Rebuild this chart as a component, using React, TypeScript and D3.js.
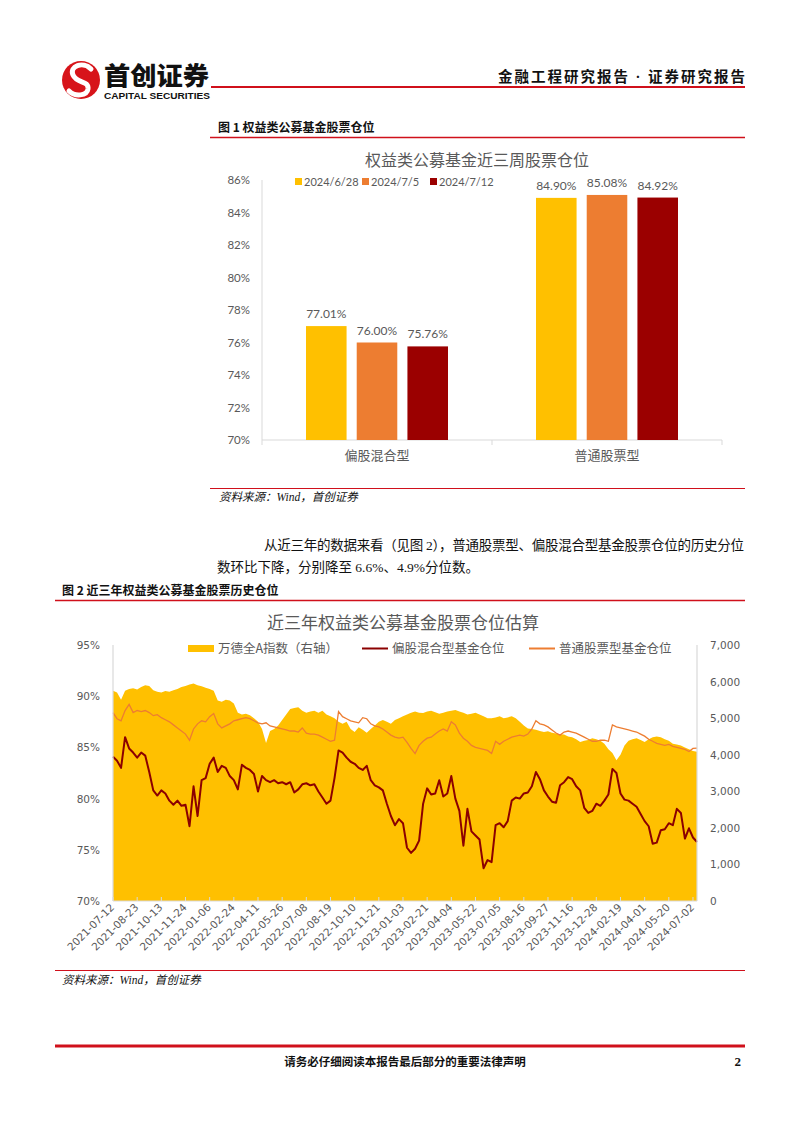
import React from 'react';
import * as d3 from 'd3';

// ---------- Figure 1 data ----------
const barCategories = ['偏股混合型', '普通股票型'];
const barDates = ['2024/6/28', '2024/7/5', '2024/7/12'];
const values0628 = [77.01, 84.9];
const values0705 = [76.0, 85.08];
const values0712 = [75.76, 84.92];
const barColors = ['#FFC000', '#ED7D31', '#9B0000'];
const barYTicks = [70, 72, 74, 76, 78, 80, 82, 84, 86];

// ---------- Figure 2 data (weekly samples) ----------
const dateLabels = [
  '2021-07-12', '2021-08-23', '2021-10-13', '2021-11-24', '2022-01-06', '2022-02-24',
  '2022-04-11', '2022-05-26', '2022-07-08', '2022-08-19', '2022-10-10', '2022-11-21',
  '2023-01-03', '2023-02-21', '2023-04-04', '2023-05-22', '2023-07-05', '2023-08-16',
  '2023-09-27', '2023-11-16', '2023-12-28', '2024-02-19', '2024-04-01', '2024-05-20',
  '2024-07-02',
];
const windIndex = [
  5750, 5700, 5500, 5750, 5800, 5820, 5780, 5850, 5900, 5880,
  5760, 5720, 5700, 5740, 5720, 5760, 5800, 5850, 5880, 5920,
  5950, 5900, 5870, 5830, 5800, 5750, 5480, 5450, 5500, 5480,
  5400, 5150, 5100, 5120, 5080, 5000, 4900, 4700, 4320, 4650,
  4700, 4800, 4950, 5100, 5250, 5280, 5300, 5200, 5150, 5180,
  5200, 5150, 5200, 5100, 5050, 5000, 4900, 4850, 4900, 4700,
  4620, 4750, 4680, 4600, 4700, 4800, 4900, 4950, 4900, 4850,
  4950, 5000, 5050, 5100, 5150, 5180, 5150, 5140, 5180, 5200,
  5160, 5120, 5150, 5180, 5200, 5220, 5180, 5150, 5100, 5120,
  5150, 5100, 5050, 5000, 5000, 5020, 5050, 5000, 5020, 5050,
  5000, 4900, 4800, 4720, 4700, 4680, 4650, 4620, 4640, 4600,
  4580, 4560, 4550, 4500, 4480, 4420, 4350, 4380, 4400, 4450,
  4420, 4380, 4300, 4150, 4050, 3850, 4000, 4250, 4380, 4420,
  4450, 4400, 4350, 4420, 4480, 4500, 4480, 4420, 4380, 4300,
  4280, 4250, 4200, 4150, 4100, 4080,
];
const mixedFund = [
  84.1, 83.7, 83.0, 86.0, 84.9, 84.5, 84.0, 84.5, 84.2, 82.6,
  80.8, 80.3, 80.8, 80.5, 79.8, 79.4, 79.8, 79.3, 79.4, 77.3,
  81.2, 78.3, 81.8, 82.0, 83.4, 84.0, 82.6, 83.2, 83.0, 82.2,
  81.8, 80.9, 83.3, 83.0, 82.8, 82.4, 80.7, 82.2, 81.8, 81.6,
  81.8, 81.5, 81.6, 81.4, 81.6, 80.6, 80.9, 81.4, 81.5, 81.3,
  81.4, 80.7, 80.1, 79.5, 79.8, 82.0, 84.7, 84.5, 84.0, 83.6,
  83.4, 83.0, 82.8, 83.2, 81.8, 81.3, 81.1, 80.8, 79.5, 78.3,
  77.4, 78.0, 77.6, 75.2, 74.7, 75.1, 75.9, 79.5, 81.0, 80.4,
  80.5, 81.8, 80.2, 80.5, 82.2, 80.0, 78.8, 75.4, 79.0, 76.8,
  76.4, 76.0, 73.2, 74.0, 73.8, 77.4, 77.6, 77.2, 77.8, 79.8,
  80.1, 80.0, 80.5, 80.6, 81.2, 82.6, 81.9, 80.8, 80.2, 79.7,
  79.6, 81.3, 81.6, 82.1, 81.9, 81.2, 80.8, 79.1, 78.6, 78.8,
  79.5, 79.3, 79.8, 80.4, 82.9, 82.5, 80.5, 79.9, 79.8, 79.5,
  79.2, 78.5, 77.8, 77.3, 75.6, 75.7, 76.9, 77.0, 77.6, 77.4,
  79.0, 78.6, 76.1, 77.1, 76.2, 75.76,
];
const stockFund = [
  88.4, 87.8, 87.6, 88.6, 89.2, 88.4, 88.6, 88.5, 88.6, 88.4,
  88.1, 88.2, 87.9, 87.7, 87.5, 87.2, 86.9, 86.6, 86.3, 85.7,
  86.8, 87.3, 87.6, 87.5, 88.0, 88.3, 87.3, 86.9, 87.1, 87.3,
  87.6, 87.7, 87.8, 87.9, 87.8, 87.6, 87.4, 87.3, 87.4, 87.1,
  87.0, 86.9, 86.8, 86.7, 86.6, 86.6, 86.5, 86.9, 86.4, 86.3,
  86.3, 86.2, 86.0, 85.8, 85.6, 85.7, 88.5, 88.0, 87.8, 87.6,
  87.5, 87.4, 87.9, 87.8, 87.3, 87.1, 87.0, 86.8, 86.5, 86.2,
  86.0, 85.9, 86.0, 85.5, 84.9, 84.4, 85.2, 85.6, 85.9, 86.0,
  86.3, 86.6, 86.8, 86.6, 87.5, 87.2, 86.4, 85.9, 85.6, 85.2,
  85.0, 84.9, 84.8, 84.7, 84.4, 85.6, 85.3, 85.6, 85.8, 86.0,
  86.1, 86.2, 86.1, 86.3, 86.8, 87.6, 87.3, 87.2, 87.0, 86.7,
  86.4, 86.2, 86.5, 86.6, 86.5, 86.4, 86.2, 86.0, 85.8, 85.6,
  85.6, 85.7, 85.7, 85.6, 87.2, 87.0, 86.9, 86.8, 86.7, 86.6,
  86.5, 86.3, 86.1, 85.8, 85.6, 85.4, 85.3, 85.2, 85.3, 85.1,
  85.0, 84.9, 84.8, 84.6, 84.9, 84.92,
];
const leftTicks = [70, 75, 80, 85, 90, 95];
const rightTicks = [0, 1000, 2000, 3000, 4000, 5000, 6000, 7000];
const labelStep = 6;

const GRAY = '#595959';
const AXIS = '#D9D9D9';
const RED = '#D0101B';
const CJK = "'Noto Sans CJK SC', sans-serif";
const SERIF = "'Liberation Serif', 'Noto Sans CJK SC', serif";
const NUM1 = "Lato, 'Noto Sans CJK SC', sans-serif";
const NUM2 = "'DejaVu Sans', 'Noto Sans CJK SC', sans-serif";

function Header() {
  return (
    <g>
      <circle cx={81} cy={80} r={19} fill="#D7141A" />
      <path d="M91,69 C83,61 69,66 73,75 C77,84 89,80 88,89 C87,96 75,97 69,91"
        fill="none" stroke="#fff" strokeWidth={5} strokeLinecap="round" />
      <text x={104} y={85} fontFamily={CJK} fontWeight={900} fontSize={24.5} fill="#111"
        textLength={105} lengthAdjust="spacingAndGlyphs">首创证券</text>
      <text x={104} y={99} fontFamily="'Liberation Sans', sans-serif" fontWeight={700} fontSize={8.4}
        fill="#111" textLength={106} lengthAdjust="spacingAndGlyphs">CAPITAL SECURITIES</text>
      <line x1={211} x2={745} y1={87} y2={87} stroke={RED} strokeWidth={2} />
      <text x={745} y={82} textAnchor="end" fontFamily={SERIF} fontWeight={700} fontSize={14.5}
        fill="#111" textLength={247} lengthAdjust="spacing">金融工程研究报告 · 证券研究报告</text>
    </g>
  );
}

function BarChart() {
  const y = d3.scaleLinear().domain([70, 86]).range([440, 180]);
  const x0 = d3.scaleBand().domain(barCategories).range([262, 722]);
  const inner = 142;
  const x1 = d3.scaleBand().domain(barDates).range([0, inner]).paddingInner(0.2);
  const off = (x0.bandwidth() - inner) / 2;
  const series = [values0628, values0705, values0712];
  const fmt = (v: number) => v.toFixed(2) + '%';
  const legendX = [295, 362, 430];
  return (
    <g>
      <text x={218} y={132} fontFamily={CJK} fontWeight={700} fontSize={12} fill="#111">图 1 权益类公募基金股票仓位</text>
      <line x1={210} x2={745} y1={137.5} y2={137.5} stroke={RED} strokeWidth={1.3} />
      <text x={477} y={166} textAnchor="middle" fontFamily={CJK} fontSize={16} fill={GRAY}>权益类公募基金近三周股票仓位</text>
      {barYTicks.map((t) => (
        <text key={t} x={250} y={y(t) + 4} textAnchor="end" fontFamily={NUM1} fontSize={11.5} fill={GRAY}>{t}%</text>
      ))}
      <line x1={262} x2={262} y1={180} y2={440} stroke={AXIS} />
      <line x1={262} x2={722} y1={440} y2={440} stroke={AXIS} />
      {[262, 492, 722].map((t) => (
        <line key={t} x1={t} x2={t} y1={440} y2={445} stroke={AXIS} />
      ))}
      {series.map((vals, si) =>
        vals.map((v, ci) => {
          const bx = (x0(barCategories[ci]) as number) + off + (x1(barDates[si]) as number);
          return (
            <g key={si + '-' + ci}>
              <rect x={bx} y={y(v)} width={x1.bandwidth()} height={y(70) - y(v)} fill={barColors[si]} />
              <text x={bx + x1.bandwidth() / 2} y={y(v) - 8} textAnchor="middle" fontFamily={NUM1}
                fontSize={12} fill={GRAY}>{fmt(v)}</text>
            </g>
          );
        })
      )}
      {barCategories.map((c) => (
        <text key={c} x={(x0(c) as number) + x0.bandwidth() / 2} y={460} textAnchor="middle"
          fontFamily={CJK} fontSize={13} fill={GRAY}>{c}</text>
      ))}
      {barDates.map((d, i) => (
        <g key={d}>
          <rect x={legendX[i]} y={178} width={7} height={7} fill={barColors[i]} />
          <text x={legendX[i] + 9} y={185.5} fontFamily={NUM1} fontSize={11} fill={GRAY}>{d}</text>
        </g>
      ))}
      <line x1={210} x2={745} y1={488.5} y2={488.5} stroke={RED} strokeWidth={1} />
      <text x={219} y={501} fontFamily={SERIF} fontStyle="italic" fontSize={11.5} fill="#111">资料来源：Wind，首创证券</text>
    </g>
  );
}

function Paragraph() {
  return (
    <g fontFamily={SERIF} fontSize={13.5} fill="#111">
      <text x={264} y={550} textLength={480} lengthAdjust="spacing">从近三年的数据来看（见图 2），普通股票型、偏股混合型基金股票仓位的历史分位</text>
      <text x={217} y={572}>数环比下降，分别降至 6.6%、4.9%分位数。</text>
    </g>
  );
}

function LineChart() {
  const n = windIndex.length;
  const x = d3.scaleLinear().domain([0, n - 1]).range([113, 697]);
  const yL = d3.scaleLinear().domain([70, 95]).range([901, 645]);
  const yR = d3.scaleLinear().domain([0, 7000]).range([901, 645]);
  const area = d3.area<number>().x((_, i) => x(i)).y0(yR(0)).y1((d) => yR(d));
  const line = d3.line<number>().x((_, i) => x(i)).y((d) => yL(d));
  const comma = d3.format(',');
  return (
    <g>
      <text x={62} y={595} fontFamily={CJK} fontWeight={700} fontSize={12} fill="#111">图 2 近三年权益类公募基金股票历史仓位</text>
      <line x1={55} x2={745} y1={600.5} y2={600.5} stroke={RED} strokeWidth={1.3} />
      <text x={403} y={629} textAnchor="middle" fontFamily={CJK} fontSize={17} fill={GRAY}>近三年权益类公募基金股票仓位估算</text>

      <path d={area(windIndex) || ''} fill="#FFC000" />
      <path d={line(stockFund) || ''} fill="none" stroke="#ED7D31" strokeWidth={1.3} />
      <path d={line(mixedFund) || ''} fill="none" stroke="#8B0000" strokeWidth={2} strokeLinejoin="round" />

      <line x1={113} x2={113} y1={645} y2={901} stroke={AXIS} strokeWidth={1.2} />
      <line x1={697} x2={697} y1={645} y2={901} stroke={AXIS} strokeWidth={1.2} />
      <line x1={113} x2={697} y1={901} y2={901} stroke={AXIS} />
      {dateLabels.map((d, k) => (
        <line key={'t' + d} x1={x(k * labelStep)} x2={x(k * labelStep)} y1={897} y2={901} stroke={AXIS} />
      ))}
      {leftTicks.map((t) => (
        <text key={t} x={100} y={yL(t) + 4} textAnchor="end" fontFamily={NUM2} fontSize={10.5} fill={GRAY}>{t}%</text>
      ))}
      {rightTicks.map((t) => (
        <text key={t} x={710} y={yR(t) + 4} fontFamily={NUM2} fontSize={10.5} fill={GRAY}>{comma(t)}</text>
      ))}
      {dateLabels.map((d, k) => (
        <text key={d} transform={`translate(${x(k * labelStep) + 2},${908}) rotate(-45)`} textAnchor="end"
          fontFamily={NUM2} fontSize={10.5} fill={GRAY}>{d}</text>
      ))}

      <rect x={188} y={645} width={26} height={7} fill="#FFC000" />
      <text x={218} y={653} fontFamily={CJK} fontSize={12.5} fill={GRAY}>万德全A指数（右轴）</text>
      <line x1={362} x2={388} y1={648.5} y2={648.5} stroke="#8B0000" strokeWidth={2} />
      <text x={392} y={653} fontFamily={CJK} fontSize={12.5} fill={GRAY}>偏股混合型基金仓位</text>
      <line x1={529} x2={555} y1={648.5} y2={648.5} stroke="#ED7D31" strokeWidth={2} />
      <text x={559} y={653} fontFamily={CJK} fontSize={12.5} fill={GRAY}>普通股票型基金仓位</text>

      <line x1={55} x2={745} y1={970.5} y2={970.5} stroke={RED} strokeWidth={1} />
      <text x={62} y={984} fontFamily={SERIF} fontStyle="italic" fontSize={11.5} fill="#111">资料来源：Wind，首创证券</text>
    </g>
  );
}

function Footer() {
  return (
    <g>
      <line x1={55} x2={745} y1={1046} y2={1046} stroke={RED} strokeWidth={3} />
      <text x={405} y={1066} textAnchor="middle" fontFamily={SERIF} fontWeight={700} fontSize={11.5} fill="#111">请务必仔细阅读本报告最后部分的重要法律声明</text>
      <text x={741} y={1066} textAnchor="end" fontFamily={SERIF} fontWeight={700} fontSize={13} fill="#111">2</text>
    </g>
  );
}

export default function App() {
  return (
    <svg width={802} height={1133} viewBox="0 0 802 1133"
      style={{ position: 'absolute', left: 0, top: 0, background: '#fff' }}>
      <rect width={802} height={1133} fill="#fff" />
      <Header />
      <BarChart />
      <Paragraph />
      <LineChart />
      <Footer />
    </svg>
  );
}
